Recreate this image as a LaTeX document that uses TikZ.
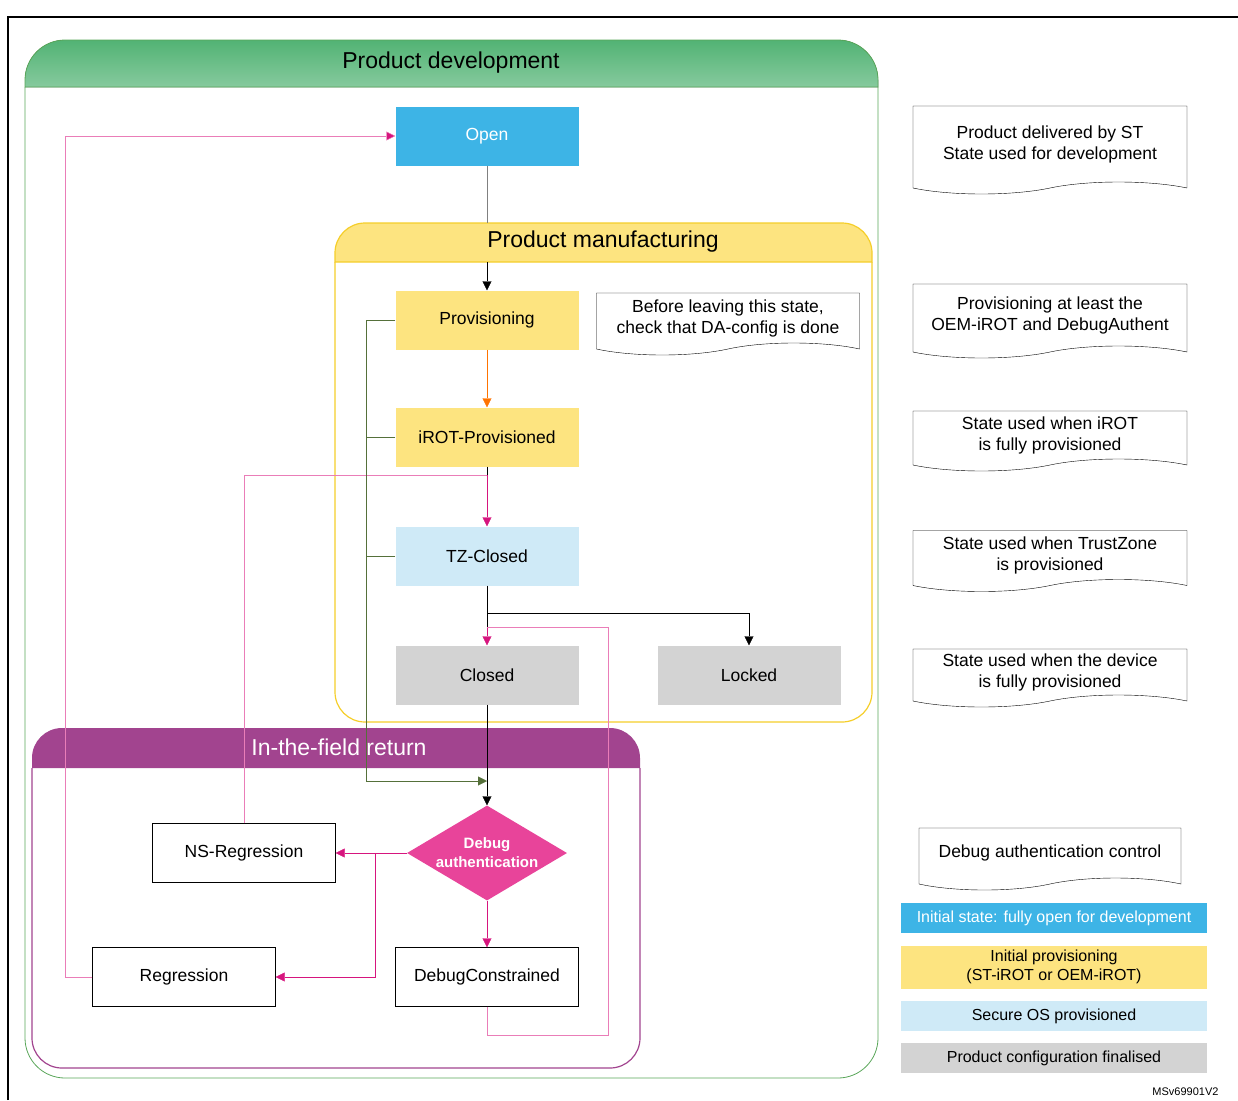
\documentclass[tikz,border=0pt]{standalone}
\usepackage{fontspec}
\setmainfont{Liberation Sans}
\usetikzlibrary{positioning,shapes.geometric,shapes.symbols,arrows.meta}
\definecolor{opnblue}{HTML}{3DB4E6}
\definecolor{provyel}{HTML}{FDE480}
\definecolor{tzblue}{HTML}{CFEAF7}
\definecolor{clgray}{HTML}{D3D3D3}
\definecolor{dagreen}{HTML}{52B374}
\definecolor{mfyel}{HTML}{F5CE2A}
\definecolor{fieldpur}{HTML}{A2448F}
\definecolor{dbgpink}{HTML}{E8449A}
\definecolor{arrpink}{HTML}{D6157E}
\definecolor{linpink}{HTML}{EA7DB8}
\definecolor{olive}{HTML}{55703A}
\tikzset{
  state/.style={ minimum width=183pt, minimum height=59pt, inner sep=0pt, font=\fontsize{17.5}{21}\selectfont },
  wstate/.style={ state, draw, fill=white },
  note/.style={ tape, tape bend top=none, tape bend height=12pt, draw, fill=white, align=center, inner sep=2pt, font=\fontsize{17.5}{21}\selectfont },
  legend/.style={ minimum width=306pt, inner sep=0pt, align=center, font=\fontsize{16}{19}\selectfont },
  tip/.style={ -{Triangle[length=9pt,width=9pt]} }
}
\begin{document}
\begin{tikzpicture}[x=1pt, y=-1pt]
      \useasboundingbox (0,0) rectangle (1238,1100);
      \draw[line width=1.5pt] (8,1100) -- (8,17) -- (1238,17);
      % containers
      \draw[draw=gray!70!green, line width=0.8pt] (25,87) {[rounded corners=40pt] -- (25,1078) -- (878,1078)} -- (878,87);
      \fill[top color=dagreen, bottom color=dagreen!70] (25,87) {[rounded corners=40pt] -- (25,40) -- (878,40)} -- (878,87) -- cycle;
      \draw[draw=gray!70!green, line width=0.8pt] (25,87) {[rounded corners=40pt] -- (25,40) -- (878,40)} -- (878,87) -- cycle;
      \node[font=\fontsize{23}{27}\selectfont] (devtitle) at (451,63) {Product development};
      \draw[mfyel, line width=1.2pt] (335,262) {[rounded corners=30pt] -- (335,722) -- (872,722)} -- (872,262);
      \fill[provyel] (335,262) {[rounded corners=30pt] -- (335,223) -- (872,223)} -- (872,262) -- cycle;
      \draw[mfyel, line width=1.2pt] (335,262) {[rounded corners=30pt] -- (335,223) -- (872,223)} -- (872,262) -- cycle;
      \node[font=\fontsize{23}{27}\selectfont] (mftitle) at (603,242) {Product manufacturing};
      \draw[fieldpur, line width=1.2pt] (32,768) {[rounded corners=30pt] -- (32,1068) -- (640,1068)} -- (640,768);
      \fill[fieldpur] (32,768) {[rounded corners=30pt] -- (32,728) -- (640,728)} -- (640,768) -- cycle;
      \node[white, font=\fontsize{23}{27}\selectfont] (fldtitle) at (339,747) {In-the-field return};
      % states
      \node[state, fill=opnblue, text=white] (open) at (487,136) {Open};
      \node[state, fill=provyel] (prov) at (487,320) {Provisioning};
      \node[state, fill=provyel] (irot) at (487,437) {iROT-Provisioned};
      \node[state, fill=tzblue] (tz) at (487,556) {TZ-Closed};
      \node[state, fill=clgray] (closed) at (487,675) {Closed};
      \node[state, fill=clgray] (locked) at (749,675) {Locked};
      \node[diamond, fill=dbgpink, text=white, font=\bfseries\fontsize{15}{19}\selectfont, align=center,
            minimum width=160pt, minimum height=95pt, inner sep=0pt, aspect=1.7] (dbg) at (487,853) {Debug\\authentication};
      \node[wstate] (nsreg) at (244,853) {NS-Regression};
      \node[wstate] (reg) at (184,977) {Regression};
      \node[wstate] (dbgc) at (487,977) {DebugConstrained};
      % notes
      \node[note, minimum width=263pt, minimum height=62pt] (leave) at (728,318) {Before leaving this state,\\check that DA-config is done};
      \node[note, minimum width=274pt, minimum height=88pt] (n1) at (1050,144) {Product delivered by ST\\State used for development};
      \node[note, minimum width=274pt, minimum height=74pt] (n2) at (1050,315) {Provisioning at least the\\OEM-iROT and DebugAuthent};
      \node[note, minimum width=274pt, minimum height=60pt] (n3) at (1050,435) {State used when iROT\\is fully provisioned};
      \node[note, minimum width=274pt, minimum height=61pt] (n4) at (1050,555) {State used when TrustZone\\is provisioned};
      \node[note, minimum width=274pt, minimum height=58pt] (n5) at (1050,672) {State used when the device\\is fully provisioned};
      \node[note, minimum width=262pt, minimum height=62pt] (n6) at (1050,853) {Debug authentication control};
      % legend
      \node[legend, fill=opnblue, text=white, minimum height=30pt] (lg1) at (1054,918) {Initial state: fully open for development};
      \node[legend, fill=provyel, minimum height=43pt] (lg2) at (1054,967) {Initial provisioning\\(ST-iROT or OEM-iROT)};
      \node[legend, fill=tzblue, minimum height=30pt] (lg3) at (1054,1016) {Secure OS provisioned};
      \node[legend, fill=clgray, minimum height=30pt] (lg4) at (1054,1058) {Product configuration finalised};
      \node[anchor=east, font=\fontsize{11}{12}\selectfont] (ref) at (1222,1092) {MSv69901V2};
      % connectors
      \coordinate (mftop) at (487,223);
      \coordinate (mfin) at (487,262);
      \coordinate (tzin) at (487,475);
      \coordinate (brk) at (487,613);
      \coordinate (olv) at (487,781);
      \draw[gray] (open) -- (mftop);
      \draw[tip] (mfin) -- (prov);
      \draw[tip, draw=orange!90!red, color=orange!90!red] (prov) -- (irot);
      \draw (irot) -- (tzin);
      \draw[tip, arrpink] (tzin) -- (tz);
      \draw[linpink] (nsreg.north) |- (tzin);
      \draw (tz) -- (brk);
      \draw[tip] (brk) -| (locked.north);
      \draw[tip, arrpink] (487,627) -- (closed);
      \draw[linpink] (dbgc.south) -- (487,1035) -| (608,627) -- (487,627);
      \draw (brk) -- (487,627);
      \draw[tip] (closed) -- (dbg);
      \draw[olive] (prov.west) -- (366,320) (irot.west) -- (366,437) (tz.west) -- (366,556);
      \draw[tip, olive] (366,320) |- (olv);
      \draw[tip, arrpink] (dbg) -- (nsreg);
      \draw[tip, arrpink] (375,853) |- (reg);
      \draw[tip, arrpink] (dbg) -- (dbgc);
      \draw[linpink, -{Triangle[length=9pt,width=9pt,fill=arrpink]}] (reg.west) -- (65,977) |- (open.west);
\end{tikzpicture}
\end{document}
